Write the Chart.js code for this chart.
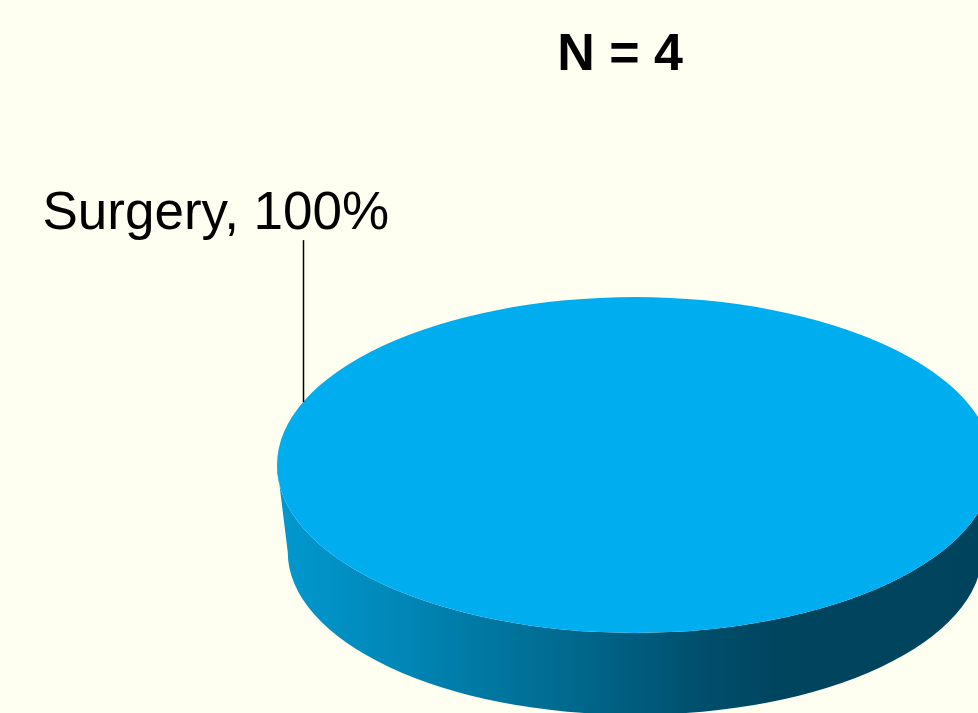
<!DOCTYPE html>
<html>
<head>
<meta charset="utf-8">
<script src="https://cdn.jsdelivr.net/npm/chart.js@4.4.1/dist/chart.umd.min.js"></script>
<style>
  html, body { margin: 0; padding: 0; background: #FEFFF0; }
  #frame { width: 978px; height: 713px; overflow: hidden; position: relative; }
  #holder { width: 1040px; height: 860px; }
</style>
</head>
<body>
<div id="frame">
  <div id="holder"><canvas id="pie" width="1040" height="860"></canvas></div>
</div>
<script>
// treatment groups and their share of patients
const categories = ['Surgery'];
const values = [100];
const sampleSize = 4;

const topColor = '#00AEEF';
const tilt = 0.469;        // vertical squash of the disc
const depth = 87;          // height of the disc edge, px on screen
const bottomShrink = 0.97; // lower rim a little smaller (perspective)
const labelAngle = -158;   // where the leader line meets the rim, degrees

// squashes the pie into a flat disc and draws the rim below it
const disc3d = {
    id: 'disc3d',
    beforeDatasetsDraw(chart) {
        const arc = chart.getDatasetMeta(0).data[0];
        const { x, y, outerRadius: r } = arc;
        const ctx = chart.ctx;
        ctx.save();
        ctx.translate(x, y);
        ctx.scale(1, tilt);
        ctx.translate(-x, -y);

        const g = ctx.createLinearGradient(x - r, 0, x + r, 0);
        g.addColorStop(0.00, '#0099D0');
        g.addColorStop(0.17, '#0087B7');
        g.addColorStop(0.38, '#006D93');
        g.addColorStop(0.59, '#004F6D');
        g.addColorStop(0.70, '#00455F');
        g.addColorStop(1.00, '#00435C');

        ctx.beginPath();
        ctx.arc(x, y, r, 0, Math.PI, false);
        ctx.arc(x, y + depth / tilt, r * bottomShrink, Math.PI, 0, true);
        ctx.closePath();
        ctx.fillStyle = g;
        ctx.fill();
    },
    afterDatasetsDraw(chart) {
        chart.ctx.restore();
    },
    afterDraw(chart) {
        const arc = chart.getDatasetMeta(0).data[0];
        const { x, y, outerRadius: r } = arc;
        const ctx = chart.ctx;
        const total = values.reduce((a, b) => a + b, 0);
        const pct = Math.round(values[0] / total * 100);

        // leader line from the rim up to the label
        const a = labelAngle * Math.PI / 180;
        const ax = Math.round(x + r * Math.cos(a)) + 0.5;
        const ay = y + r * Math.sin(a) * tilt;
        ctx.save();
        ctx.strokeStyle = '#000';
        ctx.lineWidth = 1.5;
        ctx.beginPath();
        ctx.moveTo(ax, ay);
        ctx.lineTo(ax, ay - 162);
        ctx.stroke();

        ctx.fillStyle = '#000';
        ctx.textBaseline = 'alphabetic';
        ctx.textAlign = 'left';
        ctx.font = '53px "Liberation Sans", Arial, sans-serif';
        ctx.fillText(categories[0] + ', ' + pct + '%', ax - 261, ay - 173);

        ctx.textAlign = 'center';
        ctx.font = 'bold 52px "Liberation Sans", Arial, sans-serif';
        ctx.fillText('N = ' + sampleSize, 620, 70);
        ctx.restore();
    }
};

new Chart(document.getElementById('pie'), {
    type: 'pie',
    data: {
        labels: categories,
        datasets: [{
            data: values,
            backgroundColor: [topColor],
            borderWidth: 0
        }]
    },
    options: {
        responsive: false,
        animation: false,
        devicePixelRatio: 1,
        layout: { padding: { left: 277, top: 107, right: 47, bottom: 37 } },
        plugins: {
            legend: { display: false },
            tooltip: { enabled: false },
            title: { display: false }
        }
    },
    plugins: [disc3d]
});
</script>
</body>
</html>
